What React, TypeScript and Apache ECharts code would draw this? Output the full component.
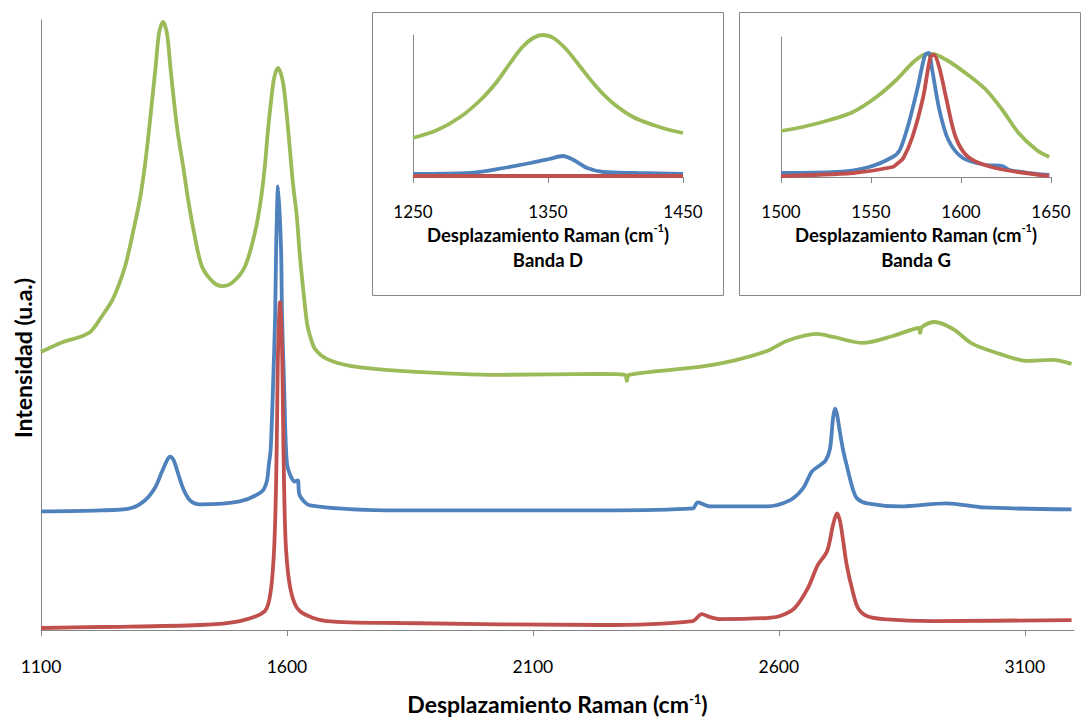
import React, { useEffect, useRef } from "react";
import * as echarts from "echarts";

// ---- tick values ----
const mainTicks = [1100, 1600, 2100, 2600, 3100];
const bandDTicks = [1250, 1350, 1450];
const bandGTicks = [1500, 1550, 1600, 1650];

// ---- main spectra (Raman shift cm-1, intensity a.u. with vertical offsets) ----
const greenX = [1100, 1145, 1179, 1200, 1212, 1220, 1246, 1271, 1287, 1301, 1311, 1319, 1326, 1333, 1340, 1348, 1356, 1363, 1370, 1378, 1389, 1399, 1411, 1427, 1450, 1468, 1490, 1515, 1535, 1547, 1555, 1561, 1568, 1574, 1582, 1590, 1596, 1606, 1612, 1620, 1626, 1633, 1641, 1647, 1657, 1681, 1728, 1830, 2033, 2236, 2287, 2291, 2295, 2439, 2506, 2576, 2616, 2677, 2710, 2771, 2832, 2885, 2887, 2891, 2917, 2954, 2994, 3049, 3104, 3157, 3195];
const greenY = [279, 289, 294, 299, 306, 312, 332, 365, 399, 432, 465, 499, 532, 565, 599, 610, 599, 565, 532, 499, 465, 432, 399, 365, 349, 345, 349, 365, 399, 432, 465, 499, 532, 554, 564, 554, 535, 482, 449, 415, 377, 342, 307, 295, 282, 272, 265, 260, 256, 257, 256, 250, 256, 264, 270, 280, 290, 297, 294, 288, 295, 303, 298, 304, 309, 302, 287, 277, 270, 271, 267];

const blueX = [1100, 1220, 1281, 1311, 1332, 1346, 1356, 1362, 1370, 1378, 1389, 1403, 1423, 1504, 1549, 1559, 1563, 1567, 1572, 1576, 1578, 1582, 1588, 1590, 1594, 1598, 1602, 1616, 1622, 1626, 1647, 1830, 2236, 2425, 2435, 2460, 2576, 2622, 2649, 2667, 2683, 2695, 2704, 2710, 2714, 2718, 2722, 2730, 2738, 2750, 2759, 2779, 2846, 2941, 3015, 3195];
const blueY = [119, 120, 122, 130, 143, 159, 170, 174, 170, 158, 142, 130, 126, 129, 139, 149, 165, 182, 249, 315, 382, 445, 382, 315, 249, 182, 162, 149, 150, 135, 125, 120, 120, 122, 128, 124, 124, 130, 142, 159, 165, 170, 182, 212, 222, 217, 205, 182, 165, 142, 132, 127, 124, 127, 123, 121];

const redX = [1100, 1220, 1423, 1504, 1555, 1567, 1574, 1578, 1580, 1582, 1586, 1590, 1592, 1594, 1598, 1608, 1626, 1681, 1830, 2236, 2425, 2443, 2460, 2480, 2576, 2602, 2632, 2659, 2679, 2698, 2710, 2718, 2724, 2730, 2738, 2750, 2761, 2779, 2811, 2913, 3195];
const redY = [2, 3, 5, 9, 19, 39, 82, 149, 215, 282, 329, 282, 215, 149, 82, 39, 19, 9, 7, 5, 9, 16, 13, 11, 12, 14, 22, 42, 65, 79, 105, 117, 110, 92, 65, 39, 22, 14, 11, 9, 10];

// ---- inset: Banda D ----
const dGreenX = [1250, 1268, 1285, 1300, 1312, 1322, 1331, 1339, 1346, 1354, 1364, 1374, 1386, 1398, 1413, 1428, 1440, 1450];
const dGreenY = [39, 47, 60, 77, 95, 114, 130, 139, 142, 139, 127, 110, 90, 74, 60, 52, 47, 44];
const dBlueX = [1250, 1292, 1317, 1337, 1351, 1361, 1369, 1379, 1391, 1416, 1450];
const dBlueY = [3, 4, 9, 14, 18, 21, 17, 9, 5, 4, 3];
const dRedX = [1250, 1350, 1450];
const dRedY = [1, 1, 1];

// ---- inset: Banda G ----
const gGreenX = [1500, 1512, 1527, 1540, 1553, 1564, 1573, 1579, 1584, 1592, 1604, 1614, 1623, 1632, 1642, 1649];
const gGreenY = [46, 50, 57, 65, 80, 97, 114, 122, 123, 117, 102, 87, 67, 44, 27, 20];
const gBlueX = [1500, 1531, 1549, 1562, 1566, 1571, 1576, 1580, 1582, 1584, 1588, 1593, 1601, 1614, 1623, 1627, 1642, 1649];
const gBlueY = [4, 5, 10, 20, 27, 54, 90, 122, 124, 107, 67, 37, 19, 12, 11, 7, 3, 2];
const gRedX = [1500, 1540, 1562, 1565, 1568, 1573, 1579, 1583, 1585, 1588, 1592, 1597, 1604, 1619, 1649];
const gRedY = [1, 4, 10, 14, 19, 40, 80, 120, 122, 109, 77, 40, 20, 9, 1];

const GREEN = "#9BBB59";
const BLUE = "#4F81BD";
const RED = "#C0504D";
const AXIS = "#868686";
const FONT = "Lato, 'Open Sans', sans-serif";

const zip = (xs: number[], ys: number[]) => xs.map((x, i) => [x, ys[i]]);
const plain = (v: number) => String(v);

const supRich = (size: number) => ({
  sup: { fontSize: size, fontWeight: "bold" as const, fontFamily: FONT, color: "#000", verticalAlign: "top" as const },
});

export default function App() {
  const ref = useRef<HTMLDivElement>(null);
  useEffect(() => {
    if (!ref.current) return;
    const chart = echarts.init(ref.current, undefined, { renderer: "svg" });
    const line = (name: string, data: number[][], color: string, idx: number, width = 3.8) => ({
      name,
      type: "line",
      xAxisIndex: idx,
      yAxisIndex: idx,
      data,
      showSymbol: false,
      smooth: 0.3,
      lineStyle: { color, width },
      itemStyle: { color },
      silent: true,
    });
    const insetX = (idx: number, min: number, max: number, ticks: number[], title: string) => ({
      gridIndex: idx,
      type: "value",
      min,
      max,
      axisLine: { lineStyle: { color: AXIS } },
      axisTick: { customValues: ticks, length: 6, lineStyle: { color: AXIS } },
      axisLabel: { customValues: ticks, formatter: plain, margin: 26, fontSize: 17, color: "#000", fontFamily: FONT },
      splitLine: { show: false },
      name: title,
      nameLocation: "middle",
      nameGap: 45,
      nameTextStyle: {
        fontSize: 18.5,
        fontWeight: "bold",
        color: "#000",
        fontFamily: FONT,
        lineHeight: 25,
        rich: supRich(11),
      },
    });
    const insetY = (idx: number, max: number) => ({
      gridIndex: idx,
      type: "value",
      min: 0,
      max,
      axisLine: { show: true, lineStyle: { color: AXIS } },
      axisTick: { show: false },
      axisLabel: { show: false },
      splitLine: { show: false },
    });
    chart.setOption({
      animation: false,
      backgroundColor: "#fff",
      grid: [
        { left: 41, top: 20, width: 1033, height: 612 },
        { left: 413, top: 35, width: 270, height: 142 },
        { left: 781, top: 37, width: 270, height: 140 },
      ],
      xAxis: [
        {
          gridIndex: 0,
          type: "value",
          min: 1100,
          max: 3200,
          axisLine: { lineStyle: { color: AXIS } },
          axisTick: { customValues: mainTicks, length: 6, lineStyle: { color: AXIS } },
          axisLabel: { customValues: mainTicks, formatter: plain, margin: 27, fontSize: 17.5, color: "#000", fontFamily: FONT },
          splitLine: { show: false },
          name: "Desplazamiento Raman (cm{sup|-1})",
          nameLocation: "middle",
          nameGap: 62,
          nameTextStyle: {
            fontSize: 23,
            fontWeight: "bold",
            color: "#000",
            fontFamily: FONT,
            rich: supRich(13),
          },
        },
        insetX(1, 1250, 1450, bandDTicks, "Desplazamiento Raman (cm{sup|-1})\nBanda D"),
        insetX(2, 1500, 1650, bandGTicks, "Desplazamiento Raman (cm{sup|-1})\nBanda G"),
      ],
      yAxis: [
        {
          gridIndex: 0,
          type: "value",
          min: 0,
          max: 612,
          axisLine: { show: true, lineStyle: { color: AXIS } },
          axisTick: { show: false },
          axisLabel: { show: false },
          splitLine: { show: false },
        },
        insetY(1, 142),
        insetY(2, 140),
      ],
      graphic: [
        { type: "rect", shape: { x: 372.5, y: 12.5, width: 351, height: 283 }, style: { fill: "none", stroke: AXIS, lineWidth: 1 }, silent: true },
        { type: "rect", shape: { x: 739.5, y: 12.5, width: 341, height: 283 }, style: { fill: "none", stroke: AXIS, lineWidth: 1 }, silent: true },
        {
          type: "text",
          x: 23,
          y: 358,
          rotation: Math.PI / 2,
          style: {
            text: "Intensidad (u.a.)",
            font: "bold 23px Lato, 'Open Sans', sans-serif",
            fill: "#000",
            align: "center",
            verticalAlign: "middle",
          },
          silent: true,
        },
      ],
      series: [
        line("verde", zip(greenX, greenY), GREEN, 0),
        line("azul", zip(blueX, blueY), BLUE, 0),
        line("rojo", zip(redX, redY), RED, 0),
        line("verde D", zip(dGreenX, dGreenY), GREEN, 1),
        line("azul D", zip(dBlueX, dBlueY), BLUE, 1),
        line("rojo D", zip(dRedX, dRedY), RED, 1),
        line("verde G", zip(gGreenX, gGreenY), GREEN, 2),
        line("azul G", zip(gBlueX, gBlueY), BLUE, 2),
        line("rojo G", zip(gRedX, gRedY), RED, 2),
      ],
    });
    return () => chart.dispose();
  }, []);
  return (
    <div
      ref={ref}
      style={{ position: "fixed", left: 0, top: 0, width: 1083, height: 720, background: "#fff" }}
    />
  );
}
